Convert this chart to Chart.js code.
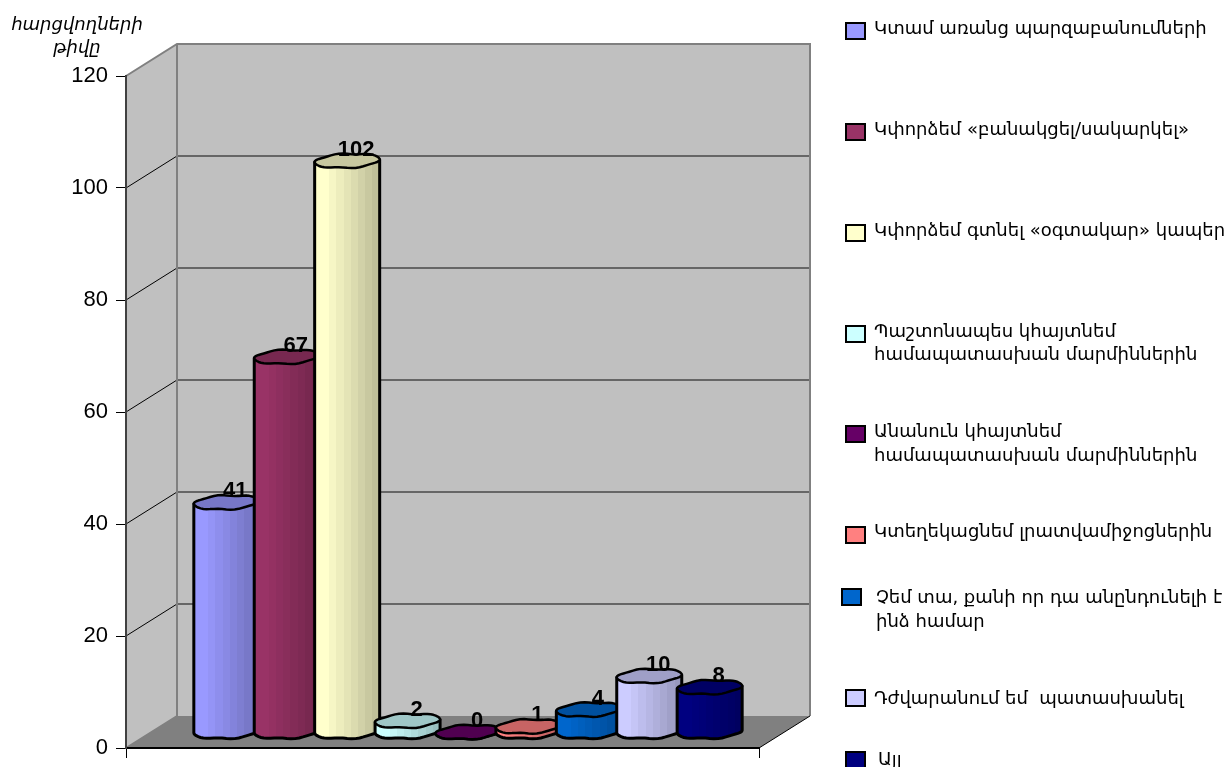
<!DOCTYPE html>
<html>
<head>
<meta charset="utf-8">
<script src="https://cdn.jsdelivr.net/npm/chart.js@4"></script>
<style>
    html, body { margin: 0; padding: 0; background: #fff; }
    canvas { display: block; }
</style>
</head>
<body>
<canvas id="chart" width="1229" height="767"></canvas>
<script>
// Chart values
const seriesNames = [
    ['Կտամ առանց պարզաբանումների'],
    ['Կփորձեմ «բանակցել/սակարկել»'],
    ['Կփորձեմ գտնել «օգտակար» կապեր'],
    ['Պաշտոնապես կհայտնեմ', 'համապատասխան մարմիններին'],
    ['Անանուն կհայտնեմ', 'համապատասխան մարմիններին'],
    ['Կտեղեկացնեմ լրատվամիջոցներին'],
    ['Չեմ տա, քանի որ դա անընդունելի է', 'ինձ համար'],
    ['Դժվարանում եմ  պատասխանել'],
    ['Այլ']
];
const seriesValues = [41, 67, 102, 2, 0, 1, 4, 10, 8];
const seriesColors = ['#9999FF', '#993366', '#FFFFCC', '#CCFFFF', '#660066', '#FF8080', '#0066CC', '#CCCCFF', '#000080'];
const axisTitle = ['հարցվողների', 'թիվը'];

// Layout of the fake 3D box and the hand placed legend
const depthX = 51, depthY = -32;
const legendRows = [
    { box: 846, text: 874, top: 23, lines: [34] },
    { box: 846, text: 874, top: 124, lines: [135] },
    { box: 846, text: 874, top: 225, lines: [236] },
    { box: 846, text: 874, top: 326, lines: [337, 360] },
    { box: 846, text: 874, top: 426, lines: [437, 461] },
    { box: 846, text: 874, top: 527, lines: [537] },
    { box: 842, text: 876, top: 589, lines: [603, 627] },
    { box: 846, text: 874, top: 690, lines: [704] },
    { box: 846, text: 878, top: 752, lines: [765] }
];
const armenianFont = '"DejaVu Sans", sans-serif';

function shade(hex, f) {
    const n = parseInt(hex.slice(1), 16);
    const r = Math.round((n >> 16 & 255) * f);
    const g = Math.round((n >> 8 & 255) * f);
    const b = Math.round((n & 255) * f);
    return 'rgb(' + r + ',' + g + ',' + b + ')';
}

// Walls and floor go behind the axes
const box3d = {
    id: 'box3d',
    beforeDraw(chart) {
        const { ctx, chartArea: a, scales: { y } } = chart;
        ctx.save();
        ctx.fillStyle = '#C0C0C0';
        ctx.fillRect(a.left + depthX, a.top + depthY, a.right - a.left, a.bottom - a.top);
        ctx.beginPath();
        ctx.moveTo(a.left, a.top);
        ctx.lineTo(a.left + depthX, a.top + depthY);
        ctx.lineTo(a.left + depthX, a.bottom + depthY);
        ctx.lineTo(a.left, a.bottom);
        ctx.closePath();
        ctx.fill();
        ctx.fillStyle = '#808080';
        ctx.beginPath();
        ctx.moveTo(a.left, a.bottom);
        ctx.lineTo(a.left + depthX, a.bottom + depthY);
        ctx.lineTo(a.right + depthX, a.bottom + depthY);
        ctx.lineTo(a.right, a.bottom);
        ctx.closePath();
        ctx.fill();

        y.ticks.forEach(t => {
            const py = y.getPixelForValue(t.value);
            if (t.value > 0 && t.value < y.max) {
                ctx.strokeStyle = '#666';
                ctx.lineWidth = 2;
                ctx.beginPath();
                ctx.moveTo(a.left + depthX, py + depthY);
                ctx.lineTo(a.right + depthX, py + depthY);
                ctx.stroke();
                ctx.strokeStyle = '#000';
                ctx.lineWidth = 1;
                ctx.beginPath();
                ctx.moveTo(a.left, py);
                ctx.lineTo(a.left + depthX, py + depthY);
                ctx.stroke();
            }
        });

        ctx.strokeStyle = '#808080';
        ctx.lineWidth = 2;
        ctx.beginPath();
        ctx.moveTo(a.left, a.top);
        ctx.lineTo(a.left + depthX, a.top + depthY);
        ctx.lineTo(a.right + depthX, a.top + depthY);
        ctx.lineTo(a.right + depthX, a.bottom + depthY);
        ctx.moveTo(a.left + depthX, a.top + depthY);
        ctx.lineTo(a.left + depthX, a.bottom + depthY);
        ctx.moveTo(a.left, a.bottom);
        ctx.lineTo(a.left + depthX, a.bottom + depthY);
        ctx.stroke();

        ctx.strokeStyle = '#000';
        ctx.lineWidth = 1;
        ctx.beginPath();
        ctx.moveTo(a.right, a.bottom);
        ctx.lineTo(a.right + depthX, a.bottom + depthY);
        ctx.stroke();
        ctx.restore();
    },
    // the library's flat bars are replaced by cylinders below
    beforeDatasetDraw() {
        return false;
    },
    afterDatasetsDraw(chart) {
        const ctx = chart.ctx;
        const bars = chart.data.datasets.map((ds, i) => chart.getDatasetMeta(i).data[0]);
        bars.forEach((bar, i) => drawCylinder(ctx, bar, seriesColors[i]));
        ctx.save();
        ctx.fillStyle = '#000';
        ctx.font = 'bold 22px "Liberation Sans", Arial, sans-serif';
        ctx.textAlign = 'center';
        ctx.textBaseline = 'alphabetic';
        bars.forEach((bar, i) => {
            ctx.fillText(String(seriesValues[i]), bar.x + depthX / 2 + 9, bar.y + depthY / 2 - 5);
        });
        ctx.restore();
    },
    afterDraw(chart) {
        const ctx = chart.ctx;
        ctx.save();
        ctx.textAlign = 'left';
        ctx.textBaseline = 'alphabetic';
        chart.data.datasets.forEach((ds, i) => {
            const row = legendRows[i];
            ctx.fillStyle = ds.backgroundColor;
            ctx.strokeStyle = '#000';
            ctx.lineWidth = 2;
            ctx.fillRect(row.box, row.top, 19, 16);
            ctx.strokeRect(row.box, row.top, 19, 16);
            ctx.fillStyle = '#000';
            ctx.font = '18px ' + armenianFont;
            ds.label.forEach((line, k) => ctx.fillText(line, row.text, row.lines[k]));
        });
        ctx.font = 'italic 18px ' + armenianFont;
        ctx.textAlign = 'center';
        ctx.fillText(axisTitle[0], 77, 30);
        ctx.fillText(axisTitle[1], 77, 53);
        ctx.restore();
    }
};

// One point on the rim of a cylinder, a bit uneven like the original
function ringPoint(cx, cy, rx, ry, a) {
    const t = Math.cos(a);
    return [cx + rx * t, cy + ry * Math.sin(a) - t * 1.3 + Math.sin(t * Math.PI * 2) * 0.7];
}

function drawCylinder(ctx, bar, color) {
    const ry = 7;
    const rx = bar.width * 1.076 / 2;
    const cx = bar.x + depthX / 2;
    const topY = bar.y + depthY / 2;
    const baseY = bar.base + depthY / 2;
    const steps = 24;

    // stepped shading, the way the old office renderer bands a cylinder
    const grad = ctx.createLinearGradient(cx - rx, 0, cx + rx, 0);
    const bands = 9;
    for (let b = 0; b < bands; b++) {
        const f = b < 2 ? 1 : 1 - 0.25 * (b - 1) / (bands - 2);
        grad.addColorStop(b / bands, shade(color, f));
        grad.addColorStop((b + 1) / bands, shade(color, f));
    }

    ctx.save();
    ctx.lineJoin = 'round';
    ctx.strokeStyle = '#000';
    ctx.lineWidth = 3;
    ctx.fillStyle = grad;
    ctx.beginPath();
    ctx.moveTo(...ringPoint(cx, topY, rx, ry, Math.PI));
    for (let s = 0; s <= steps; s++) {
        ctx.lineTo(...ringPoint(cx, baseY, rx, ry, Math.PI - Math.PI * s / steps));
    }
    ctx.lineTo(...ringPoint(cx, topY, rx, ry, 0));
    ctx.closePath();
    ctx.fill();
    ctx.stroke();

    ctx.fillStyle = shade(color, 0.78);
    ctx.lineWidth = 2.5;
    ctx.beginPath();
    for (let s = 0; s < steps * 2; s++) {
        ctx.lineTo(...ringPoint(cx, topY, rx, ry, Math.PI * s / steps));
    }
    ctx.closePath();
    ctx.fill();
    ctx.stroke();
    ctx.restore();
}

new Chart(document.getElementById('chart').getContext('2d'), {
    type: 'bar',
    data: {
        labels: [''],
        datasets: seriesNames.map((name, i) => ({
            label: name,
            data: [seriesValues[i]],
            backgroundColor: seriesColors[i]
        }))
    },
    options: {
        responsive: false,
        animation: false,
        events: [],
        layout: { padding: { left: 0, top: 76, right: 470, bottom: 0 } },
        categoryPercentage: 0.859,
        barPercentage: 1,
        plugins: { legend: { display: false }, title: { display: false }, tooltip: { enabled: false } },
        scales: {
            x: {
                afterFit: s => { s.height = 19; },
                ticks: { display: false },
                border: { color: '#000', width: 2 },
                grid: { offset: true, drawOnChartArea: false, tickLength: 10, color: '#000' }
            },
            y: {
                min: 0,
                max: 120,
                afterFit: s => { s.width = 126; s.paddingTop = 0; s.paddingBottom = 0; },
                ticks: {
                    stepSize: 20,
                    padding: 8,
                    color: '#000',
                    font: { family: '"Liberation Sans", Arial, sans-serif', size: 22 }
                },
                border: { color: '#404040', width: 2 },
                grid: { drawOnChartArea: false, tickLength: 10, color: '#000' }
            }
        }
    },
    plugins: [box3d]
});
</script>
</body>
</html>
